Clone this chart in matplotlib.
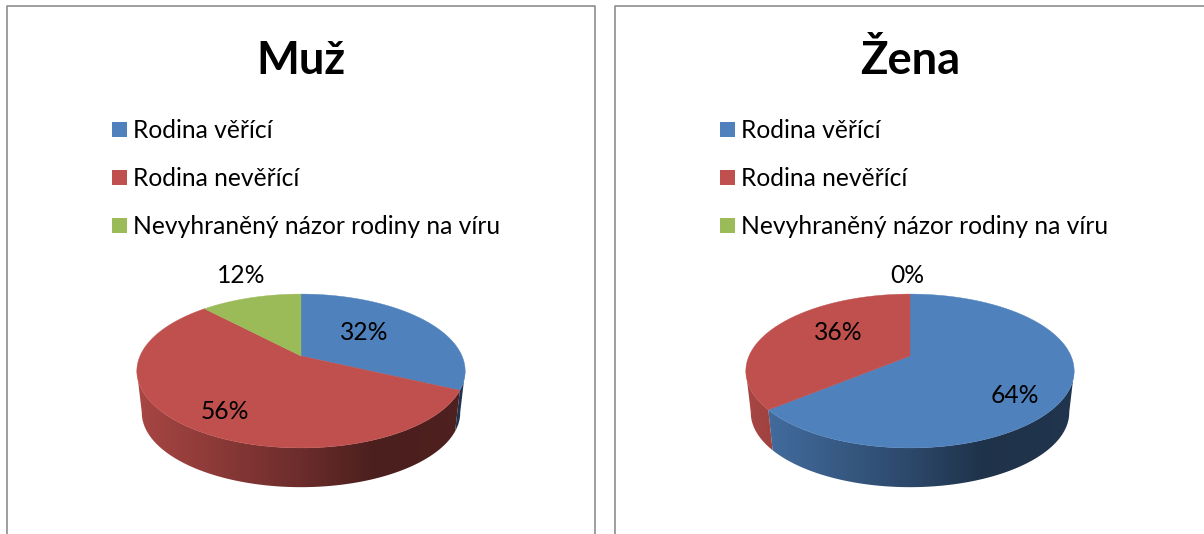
import numpy as np
import matplotlib
matplotlib.use('Agg')
import matplotlib.pyplot as plt
from matplotlib.colors import LinearSegmentedColormap
from matplotlib.patches import Polygon, Rectangle

plt.rcParams['font.family'] = ['Lato', 'DejaVu Sans']

# data
titles = ['Muž', 'Žena']
categories = ['Rodina věřící', 'Rodina nevěřící', 'Nevyhraněný názor rodiny na víru']
muz_values = [32, 56, 12]
zena_values = [64, 36, 0]
colors = ['#4f81bd', '#c0504d', '#9bbb59']

# label position of each slice (pixels)
muz_label_pos = [(364.5, 332.5), (224.5, 411.5), (241, 275.5)]
zena_label_pos = [(1014.5, 395.5), (838.5, 332.5), (907.5, 275.5)]

# geometry of the tilted disc
K = 0.195
R = 161
S = 74
APEX_Y = 356
DEPTH_SCALE = 0.97
BOTTOM_APEX_Y = 398
VIS_START = 101
VIS_END = 259


def rim(theta, cx, r, s, apex_y):
    u = np.sin(np.radians(theta))
    v = np.cos(np.radians(theta))
    w = 1 + K * v
    return cx + r * u / w, apex_y - s * v / w


def side_gradient(ax, color, clip, cx):
    rgb = np.array(matplotlib.colors.to_rgb(color))
    cmap = LinearSegmentedColormap.from_list('side', [
        (0.0, rgb * 0.88), (0.5, rgb * 0.56), (0.72, rgb * 0.39), (1.0, rgb * 0.41)])
    grad = np.linspace(0, 1, 256).reshape(1, -1)
    im = ax.imshow(grad, cmap=cmap, aspect='auto', zorder=2,
                   extent=(cx - 166, cx + 166, 500, 340))
    im.set_clip_path(clip)


def draw_pie(ax, values, cx):
    start = 0
    tops = []
    for val, col in zip(values, colors):
        end = start + val * 3.6
        if val > 0:
            th = np.linspace(start, end, 200)
            x, y = rim(th, cx, R, S, APEX_Y)
            tops.append((np.r_[cx, x], np.r_[APEX_Y, y], col))

            # outer wall, only the part facing the viewer
            a, b = max(start, VIS_START), min(end, VIS_END)
            if b > a:
                th2 = np.linspace(a, b, 200)
                x1, y1 = rim(th2, cx, R, S, APEX_Y)
                x2, y2 = rim(th2, cx, R * DEPTH_SCALE, S * DEPTH_SCALE, BOTTOM_APEX_Y)
                pts = np.c_[np.r_[x1, x2[::-1]], np.r_[y1, y2[::-1]]]
                poly = Polygon(pts, closed=True, fc='none', ec='none', transform=ax.transData)
                ax.add_patch(poly)
                side_gradient(ax, col, poly, cx)
        start = end
    for x, y, col in tops:
        ax.fill(x, y, color=col, lw=0.3, zorder=3)


fig = plt.figure(figsize=(12.04, 5.34), dpi=100)
ax = fig.add_axes([0, 0, 1, 1])

charts = [(titles[0], muz_values, muz_label_pos, 301, 112),
          (titles[1], zena_values, zena_label_pos, 910, 720)]

for title, values, label_pos, cx, leg_x in charts:
    draw_pie(ax, values, cx)
    ax.text(cx, 61, title, fontsize=32.7, fontweight='bold', ha='center', va='center')
    for i, name in enumerate(categories):
        y = 129 + i * 48
        ax.add_patch(Rectangle((leg_x, y - 7.5), 15, 15, fc=colors[i], ec='none'))
        ax.text(leg_x + 21, y + 1.5, name, fontsize=17.7, ha='left', va='center')
    for val, (lx, ly) in zip(values, label_pos):
        ax.text(lx, ly, f'{val}%', fontsize=17.7, ha='center', va='center', zorder=5)

# chart frames, cut off by the bottom of the picture
ax.plot([7, 7, 595, 595], [534, 6, 6, 534], color='#8e8e8e', lw=1.2, zorder=1)
ax.plot([615, 615, 1204], [534, 6, 6], color='#8e8e8e', lw=1.2, zorder=1)

ax.set_xlim(0, 1204)
ax.set_ylim(534, 0)
ax.axis('off')

fig.savefig('out.png', dpi=100)
